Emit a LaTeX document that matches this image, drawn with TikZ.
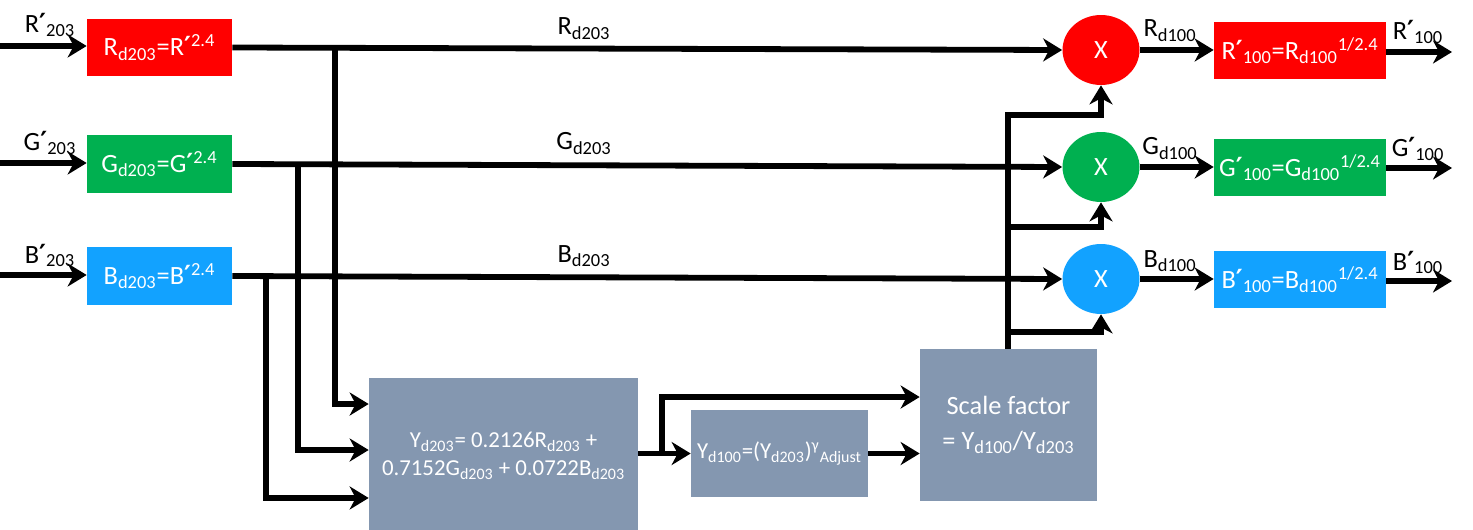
\documentclass[tikz,border=0pt]{standalone}
\usepackage{fontspec}
\setmainfont{Carlito}
\newfontfamily\symfont{DejaVu Sans}
\usetikzlibrary{arrows.meta, shapes.geometric, positioning}
\definecolor{CR}{RGB}{255,0,0}
\definecolor{CG}{RGB}{0,176,80}
\definecolor{CB}{RGB}{18,162,255}
\definecolor{CY}{RGB}{132,151,176}
\newcommand{\lo}[1]{\textsubscript{#1}}
\newcommand{\hi}[1]{\textsuperscript{#1}}
\newcommand{\pr}{{\symfont\bfseries ′}}

\begin{document}
\begin{tikzpicture}[x=0.02cm, y=-0.02cm,
  box/.style={fill=#1, text=white, inner sep=0pt, minimum width=2.9cm,
    minimum height=1.16cm, font=\fontsize{15}{18}\selectfont},
  outbox/.style={box=#1, minimum width=3.44cm, minimum height=1.14cm},
  gbox/.style={fill=CY, text=white, inner sep=0pt, align=center,
    font=\fontsize{13}{16}\selectfont},
  mult/.style={ellipse, fill=#1, text=white, inner sep=0pt,
    minimum width=1.54cm, minimum height=1.4cm, font=\fontsize{15}{18}\selectfont},
  wire/.style={line width=3.3pt},
  arr/.style={wire, -{Stealth[length=0.38cm, width=0.46cm, inset=0.12cm]}},
  lbl/.style={anchor=base, font=\fontsize{15}{18}\selectfont}]

\useasboundingbox (0,0) rectangle (1473,530);

% Gamma decoding boxes
\node[box=CR] (rbox) at (159.5,47.5) {R\lo{d203}=R\pr\hi{2.4}};
\node[box=CG] (gbox) at (159.5,164) {G\lo{d203}=G\pr\hi{2.4}};
\node[box=CB] (bbox) at (159.5,276) {B\lo{d203}=B\pr\hi{2.4}};

% Luminance and scale factor
\node[gbox, minimum width=5.38cm, minimum height=3.12cm] (ybox) at (503.5,456)
  {Y\lo{d203}= 0.2126R\lo{d203} +\\0.7152G\lo{d203} + 0.0722B\lo{d203}};
\node[gbox, minimum width=3.54cm, minimum height=1.74cm] (yd) at (779.5,453.5)
  {Y\lo{d100}=(Y\lo{d203})\hi{γ}\lo{Adjust}};
\node[gbox, minimum width=3.54cm, minimum height=3.04cm,
  font=\fontsize{15}{20}\selectfont] (sbox) at (1008.5,425)
  {Scale factor\\= Y\lo{d100}/Y\lo{d203}};

% Multipliers
\node[mult=CR] (rc) at (1101,50) {X};
\node[mult=CG] (gc) at (1101,167) {X};
\node[mult=CB] (bc) at (1101,279) {X};

% Gamma encoding boxes
\node[outbox=CR] (rout) at (1300,50.5) {R\pr\lo{100}=R\lo{d100}\hi{1/2.4}};
\node[outbox=CG] (gout) at (1300,167.5) {G\pr\lo{100}=G\lo{d100}\hi{1/2.4}};
\node[outbox=CB] (bout) at (1300,279.5) {B\pr\lo{100}=B\lo{d100}\hi{1/2.4}};

% Free ends and junctions
\coordinate (inR) at (0,46);
\coordinate (inG) at (0,163);
\coordinate (inB) at (0,275);
\coordinate (outR) at (1452,52);
\coordinate (outG) at (1452,168);
\coordinate (outB) at (1452,281);
\coordinate (tapR) at (335,47.5);
\coordinate (tapG) at (298,164.5);
\coordinate (tapB) at (266,276.5);
\coordinate (brY) at (662,454);
\coordinate (jR) at (1008,115);
\coordinate (jG) at (1008,227);
\coordinate (jB) at (1008,332);

% Inputs
\draw[arr] (inR) -- (inR -| rbox.west);
\draw[arr] (inG) -- (inG -| gbox.west);
\draw[arr] (inB) -- (inB -| bbox.west);

% Linear channels
\draw[arr] (rbox.east) -- (rc.west);
\draw[arr] (gbox.east) -- (gc.west);
\draw[arr] (bbox.east) -- (bc.west);

% Taps into luminance
\draw[arr] (tapR) |- ([yshift=1.04cm]ybox.west);
\draw[arr] (tapG) |- ([yshift=0.12cm]ybox.west);
\draw[arr] (tapB) |- ([yshift=-0.84cm]ybox.west);

% Luminance to scale factor
\draw[arr] (ybox.east |- yd.west) -- (yd.west);
\draw[arr] (brY) |- ([yshift=0.56cm]sbox.west);
\draw[arr] (yd.east) -- (yd.east -| sbox.west);

% Scale factor to multipliers
\draw[arr] (sbox.north -| jR) -- (jR) -| (rc.south);
\draw[arr] (jG) -| (gc.south);
\draw[arr] (jB) -| (bc.south);

% Outputs
\draw[arr] (rc.east) -- (rc.east -| rout.west);
\draw[arr] (gc.east) -- (gc.east -| gout.west);
\draw[arr] (bc.east) -- (bc.east -| bout.west);
\draw[arr] (rout.east |- outR) -- (outR);
\draw[arr] (gout.east |- outG) -- (outG);
\draw[arr] (bout.east |- outB) -- (outB);

% Labels on wires
\node[lbl] (lRin) at (50,33) {R\pr\lo{203}};
\node[lbl] (lGin) at (50,151) {G\pr\lo{203}};
\node[lbl] (lBin) at (50,263) {B\pr\lo{203}};
\node[lbl] (lRd) at (584,35) {R\lo{d203}};
\node[lbl] (lGd) at (584,150) {G\lo{d203}};
\node[lbl] (lBd) at (584,262) {B\lo{d203}};
\node[lbl] (lRo) at (1170,37) {R\lo{d100}};
\node[lbl] (lGo) at (1170,155) {G\lo{d100}};
\node[lbl] (lBo) at (1170,267) {B\lo{d100}};
\node[lbl] (lRp) at (1418,40) {R\pr\lo{100}};
\node[lbl] (lGp) at (1418,157) {G\pr\lo{100}};
\node[lbl] (lBp) at (1418,270) {B\pr\lo{100}};
\end{tikzpicture}
\end{document}
